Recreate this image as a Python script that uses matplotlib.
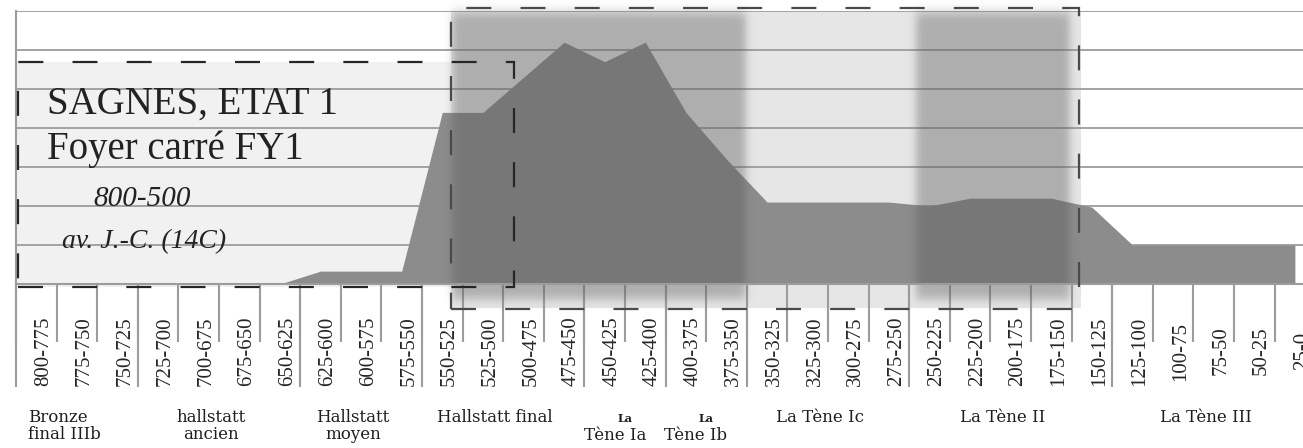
import numpy as np
import matplotlib.pyplot as plt
from matplotlib.patches import Rectangle

plt.rcParams['font.family'] = ['Liberation Serif', 'DejaVu Serif']
plt.rcParams['lines.scale_dashes'] = False

# 25-year slices, oldest first
periods = ["800-775", "775-750", "750-725", "725-700", "700-675", "675-650",
           "650-625", "625-600", "600-575", "575-550", "550-525", "525-500",
           "500-475", "475-450", "450-425", "425-400", "400-375", "375-350",
           "350-325", "325-300", "300-275", "275-250", "250-225", "225-200",
           "200-175", "175-150", "150-125", "125-100", "100-75", "75-50",
           "50-25", "25-0"]
values = [0, 0, 0, 0, 0, 0, 0, 0.33, 0.33, 0.33, 4.4, 4.4, 5.3, 6.2, 5.7, 6.2,
          4.4, 3.2, 2.1, 2.1, 2.1, 2.1, 2.0, 2.2, 2.2, 2.2, 1.97, 1.0, 1.0, 1.0,
          1.0, 1.0]

# chrono-cultural phases and how many slices each one covers
phases = ["Bronze\nfinal IIIb", "hallstatt\nancien", "Hallstatt\nmoyen",
          "Hallstatt final", "Tène Ia", "Tène Ib", "La Tène Ic", "La Tène II",
          "La Tène III"]
phase_sizes = [3, 4, 3, 4, 2, 2, 4, 5, 5]

GRID = '#9c9c9c'
AREA = '#8c8c8c'
INK = '#1e1e1e'
PHASE_FONT = ['DejaVu Serif']

fig = plt.figure(figsize=(13.03, 4.48), dpi=100)
ax = fig.add_axes([16 / 1303, 164 / 448, 1299.2 / 1303, 273 / 448])
x = np.arange(len(periods))


def soft_box(x0, x1, y0, y1, sx, sy, color, alpha, z):
    # rectangle with blurred borders, drawn as an RGBA image
    xs = np.linspace(x0 - 5 * sx, x1 + 5 * sx, 700)
    ys = np.linspace(y0 - 5 * sy, y1 + 5 * sy, 400)
    X, Y = np.meshgrid(xs, ys)
    step = lambda d, s: 1 / (1 + np.exp(-d / s))
    a = step(X - x0, sx) * step(x1 - X, sx) * step(Y - y0, sy) * step(y1 - Y, sy)
    img = np.zeros(Y.shape + (4,))
    img[..., :3] = color
    img[..., 3] = alpha * a
    im = ax.imshow(img, extent=(xs[0], xs[-1], ys[0], ys[-1]), origin='lower',
                   aspect='auto', interpolation='bilinear', zorder=z)
    im.set_clip_on(False)


# background boxes
ax.add_patch(Rectangle((-0.5, -0.08), 12.27, 5.77, fc='#f1f1f1', ec='none',
                       zorder=0.2, clip_on=False))
ax.add_patch(Rectangle((10.22, -0.62), 15.5, 7.62, fc='#e6e6e6', ec='none',
                       zorder=0.3, clip_on=False))

ax.fill_between(x, values, color=AREA, lw=0, zorder=1)

soft_box(10.24, 17.47, -0.4, 6.95, 0.06, 0.08, 0.34, 0.39, 1.5)
soft_box(21.66, 25.42, -0.4, 6.95, 0.06, 0.08, 0.34, 0.39, 1.5)

# dashed frames
ax.add_patch(Rectangle((-0.45, -0.08), 12.22, 5.77, fill=False, ec='#262626',
                       lw=1.6, ls=(0, (18, 21)), zorder=3, clip_on=False))
ax.add_patch(Rectangle((10.21, -0.64), 15.47, 7.72, fill=False, ec='#4a4a4a',
                       lw=1.6, ls=(0, (18, 21)), zorder=3, clip_on=False))

ax.set_xlim(-0.5, len(periods) - 0.5)
ax.set_ylim(0, 7)
ax.set_axisbelow(True)
ax.set_yticks(range(0, 8))
ax.yaxis.grid(True, color=GRID, lw=1.3)
ax.tick_params(axis='y', length=0, labelleft=False)
for s in ['top', 'right']:
    ax.spines[s].set_visible(False)
for s in ['left', 'bottom']:
    ax.spines[s].set_color(GRID)
    ax.spines[s].set_linewidth(1.5)

ax.set_xticks([])
ax.set_xticks(np.arange(len(periods) + 1) - 0.5, minor=True)
ax.tick_params(axis='x', which='minor', length=41.8, width=1.5, color=GRID)

# long separators between phases
edges = np.concatenate([[0], np.cumsum(phase_sizes)]) - 0.5
ax.vlines(edges, -2.64, 0, color=GRID, lw=1.5, zorder=0.5, clip_on=False)

for i, lab in enumerate(periods):
    ax.text(i + 0.18, -1.72, lab, rotation=90, ha='center', va='center',
            fontsize=15, color='#262626', zorder=5, clip_on=False)

centers = (edges[:-1] + edges[1:]) / 2
for c, lab in zip(centers, phases):
    if lab.startswith('Tène'):
        ax.text(c - 0.25, -3.66, lab, ha='center', va='top', fontsize=12,
                family=PHASE_FONT, color=INK, zorder=5, clip_on=False)
        ax.text(c, -3.3, 'La', ha='center', va='top', fontsize=8,
                fontweight='bold', family=PHASE_FONT, color=INK, zorder=5,
                clip_on=False)
    elif lab.startswith('Bronze'):
        ax.text(c - 1.2, -3.2, lab, ha='left', va='top', fontsize=12,
                linespacing=1.05, family=PHASE_FONT, color=INK, zorder=5,
                clip_on=False)
    else:
        ax.text(c - 0.2, -3.2, lab, ha='center', va='top', fontsize=12,
                linespacing=1.05, family=PHASE_FONT, color=INK, zorder=5,
                clip_on=False)

# site caption
ax.text(0.26, 4.38, "SAGNES, ETAT 1", fontsize=28, color='#222222', zorder=5)
ax.text(0.26, 3.2, "Foyer carré FY1", fontsize=28, color='#222222', zorder=5)
ax.text(1.4, 2.0, "800-500", fontsize=21, style='italic', color='#222222', zorder=5)
ax.text(0.63, 0.92, "av. J.-C. (14C)", fontsize=20, style='italic',
        color='#222222', zorder=5)

fig.savefig('out.png', dpi=100)
